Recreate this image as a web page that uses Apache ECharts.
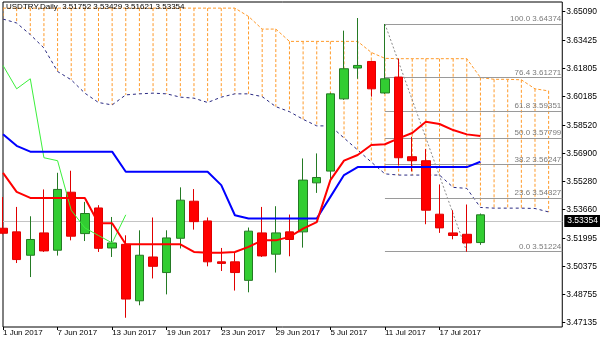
<!DOCTYPE html>
<html><head><meta charset="utf-8">
<script src="https://cdn.jsdelivr.net/npm/echarts@6/dist/echarts.min.js"></script>
<style>html,body{margin:0;padding:0;background:#fff}#c{width:600px;height:343px}</style>
</head><body><div id="c"></div>
<script>
const symbol = 'USDTRY', timeframe = 'Daily';
const dates = ["1 Jun 2017","2 Jun 2017","5 Jun 2017","6 Jun 2017","7 Jun 2017","8 Jun 2017","9 Jun 2017","12 Jun 2017","13 Jun 2017","14 Jun 2017","15 Jun 2017","16 Jun 2017","19 Jun 2017","20 Jun 2017","21 Jun 2017","22 Jun 2017","23 Jun 2017","26 Jun 2017","27 Jun 2017","28 Jun 2017","29 Jun 2017","30 Jun 2017","3 Jul 2017","4 Jul 2017","5 Jul 2017","6 Jul 2017","7 Jul 2017","10 Jul 2017","11 Jul 2017","12 Jul 2017","13 Jul 2017","14 Jul 2017","17 Jul 2017","18 Jul 2017","19 Jul 2017","20 Jul 2017","21 Jul 2017","24 Jul 2017","25 Jul 2017","26 Jul 2017","27 Jul 2017","28 Jul 2017"];
const open  = [3.5258,3.5237,3.5102,3.5231,3.5131,3.5466,3.5227,3.5375,3.5144,3.5165,3.4839,3.5092,3.5002,3.5200,3.5414,3.5300,3.5064,3.5064,3.4957,3.5231,3.5108,3.5237,3.5237,3.5520,3.5588,3.6005,3.6183,3.6221,3.6039,3.6131,3.5671,3.5648,3.5339,3.5231,3.5223,3.51752];
const close = [3.5229,3.5077,3.5193,3.5127,3.5482,3.5212,3.5343,3.5142,3.5173,3.4849,3.5102,3.5038,3.5202,3.5420,3.5296,3.5064,3.5055,3.5002,3.5241,3.5098,3.5231,3.5193,3.5536,3.5551,3.6034,3.6179,3.6198,3.6063,3.6121,3.5665,3.5648,3.5362,3.5260,3.5216,3.5173,3.53354];
const high  = [3.5438,3.5381,3.5327,3.5482,3.5578,3.5590,3.5410,3.5391,3.5323,3.5217,3.5246,3.5320,3.5246,3.5494,3.5484,3.5320,3.5144,3.5121,3.5262,3.5381,3.5385,3.5337,3.5661,3.5690,3.6040,3.6399,3.6472,3.6225,3.64374,3.6237,3.5786,3.5715,3.5511,3.5362,3.5395,3.53429];
const low   = [3.5223,3.5057,3.4976,3.5121,3.5100,3.5188,3.5184,3.5121,3.5092,3.4741,3.4813,3.4968,3.4876,3.5141,3.5250,3.5038,3.5011,3.4898,3.4888,3.5092,3.5002,3.5096,3.5146,3.5462,3.5526,3.5999,3.6121,3.6018,3.6034,3.5623,3.5586,3.5281,3.5231,3.5194,3.51224,3.51621];
const tenkan = [3.5578,3.5468,3.5433,3.5433,3.5433,3.5433,3.5433,3.5287,3.5287,3.5165,3.5165,3.5165,3.5165,3.5165,3.5121,3.5117,3.5117,3.5121,3.5150,3.5188,3.5188,3.5208,3.5256,3.5293,3.5536,3.5648,3.5681,3.5739,3.5743,3.5777,3.5808,3.5873,3.5860,3.5825,3.5800,3.5791];
const kijun = [3.5801,3.5734,3.5700,3.5700,3.5700,3.5700,3.5700,3.5700,3.5700,3.5584,3.5584,3.5584,3.5584,3.5584,3.5584,3.5584,3.5507,3.5333,3.5314,3.5314,3.5314,3.5314,3.5314,3.5314,3.5439,3.5565,3.5611,3.5611,3.5611,3.5611,3.5611,3.5611,3.5611,3.5611,3.5611,3.5642];
const spanUpper = [3.6529,3.6529,3.6529,3.6529,3.6529,3.6529,3.6529,3.6529,3.6529,3.6529,3.6529,3.6529,3.6529,3.6529,3.6529,3.6529,3.6529,3.6529,3.6481,3.6408,3.6408,3.6337,3.6337,3.6337,3.6337,3.6337,3.6337,3.6273,3.6239,3.6237,3.6237,3.6237,3.6237,3.6237,3.6237,3.6128,3.6118,3.6118,3.6115,3.6063,3.6051];
const spanLower = [3.6466,3.6443,3.6376,3.6299,3.6163,3.6115,3.6038,3.5984,3.5970,3.6028,3.6034,3.6038,3.6034,3.6015,3.6009,3.5984,3.6015,3.6034,3.6034,3.6018,3.5960,3.5931,3.5887,3.5849,3.5849,3.5779,3.5710,3.5640,3.5572,3.5565,3.5565,3.5565,3.5565,3.5494,3.5488,3.5378,3.5374,3.5374,3.5374,3.5372,3.5352];
const chikouShift = 26;
const fibLevels = ["0.0","23.6","38.2","50.0","61.8","76.4","100.0"];
const fibPrices = [3.51224,3.54327,3.56247,3.57799,3.59351,3.61271,3.64374];
const fibHighIndex = 28, fibLowIndex = 34;
const yTicks = [3.47135,3.48755,3.50375,3.51995,3.53660,3.55280,3.56900,3.58520,3.60185,3.61805,3.63425,3.65090];
const xLabelEvery = 4, xLastLabel = 32;

const yMin = 3.46876, yMax = 3.65644;
const ORANGE = '#ff9a2a', NAVY = '#2a2a82';
const FONT = 'Liberation Sans';

const N = dates.length;
const pad = a => { const o = a.slice(); while (o.length < N) o.push(null); return o; };
const candles = open.map((o, i) => [o, close[i], low[i], high[i]]);
const chikou = dates.map((d, i) => (i + chikouShift < close.length ? close[i + chikouShift] : null));
const last = close.length - 1;
const lastClose = close[last];
const showIdx = i => i % xLabelEvery === 0 && i <= xLastLabel;

const option = {
  animation: false,
  backgroundColor: '#fff',
  textStyle: { fontFamily: FONT },
  title: {
    text: symbol + ',' + timeframe + '  ' + [open[last], high[last], low[last], close[last]].map(v => v.toFixed(5)).join(' '),
    left: 6, top: 3, padding: 0,
    textStyle: { fontSize: 8, fontWeight: 'normal', color: '#000', fontFamily: FONT }
  },
  grid: { left: 2, right: 37, top: 2, bottom: 16, show: true, borderColor: '#000', borderWidth: 1, backgroundColor: '#fff' },
  xAxis: {
    type: 'category', data: dates, boundaryGap: false,
    axisLine: { show: false },
    axisTick: { show: true, length: 3, interval: (i) => showIdx(i), lineStyle: { color: '#000' } },
    axisLabel: { interval: (i) => showIdx(i), align: 'left', fontSize: 8, color: '#000', margin: 2, fontFamily: FONT, showMinLabel: true },
    splitLine: { show: false }
  },
  yAxis: {
    type: 'value', position: 'right', min: yMin, max: yMax,
    axisLine: { show: false }, splitLine: { show: false },
    axisTick: { show: true, length: 3, customValues: yTicks, lineStyle: { color: '#000' } },
    axisLabel: { customValues: yTicks, formatter: v => v.toFixed(5), fontSize: 8.5, color: '#000', margin: 4, fontFamily: FONT }
  },
  series: [
    {
      type: 'custom', silent: true, z: 1, clip: true,
      data: spanUpper.map((v, i) => [i, v, spanLower[i]]),
      encode: { x: 0, y: [1, 2] },
      renderItem: (params, api) => {
        const i = api.value(0);
        const a = api.coord([i, api.value(1)]);
        const b = api.coord([i, api.value(2)]);
        return { type: 'line', shape: { x1: a[0], y1: a[1], x2: b[0], y2: b[1] }, style: { stroke: ORANGE, lineWidth: 1, lineDash: [3, 2] } };
      }
    },
    { type: 'line', data: pad(spanUpper), showSymbol: false, silent: true, z: 2, lineStyle: { color: ORANGE, width: 1, type: [3, 2] } },
    { type: 'line', data: pad(spanLower), showSymbol: false, silent: true, z: 2, lineStyle: { color: NAVY, width: 1, type: [3, 3] } },
    {
      type: 'line', data: pad([]), showSymbol: false, silent: true, z: 2,
      markLine: {
        symbol: ['none', 'none'], silent: true, animation: false,
        lineStyle: { color: '#c4c4c4', type: 'solid', width: 1 },
        label: { show: true, position: 'end', formatter: lastClose.toFixed(5), backgroundColor: '#000', color: '#fff', padding: [2, 3, 1, 3], fontSize: 8.5, distance: 2, fontFamily: FONT },
        data: [{ yAxis: lastClose }]
      }
    },
    {
      type: 'line', showSymbol: false, silent: true, z: 3,
      data: [[dates[fibHighIndex], fibPrices[fibPrices.length - 1]], [dates[fibLowIndex], fibPrices[0]]],
      lineStyle: { color: '#8a8a8a', width: 1, type: [2, 2] },
      markLine: {
        symbol: ['none', 'none'], silent: true, animation: false,
        lineStyle: { color: '#9a9a9a', type: 'solid', width: 1 },
        label: { show: true, position: 'insideEndTop', color: '#7a7a7a', fontSize: 8, distance: [1, 1], fontFamily: FONT, formatter: p => p.name },
        data: fibPrices.map((p, k) => [
          { name: fibLevels[k] + ' ' + p.toFixed(5), coord: [dates[fibHighIndex], p] },
          { name: fibLevels[k] + ' ' + p.toFixed(5), coord: [dates[N - 1], p] }
        ])
      }
    },
    {
      type: 'candlestick', data: candles, barWidth: 9, z: 5, clip: true,
      itemStyle: { color: '#32cd32', color0: '#ff0000', borderColor: '#247a24', borderColor0: '#e00000', borderWidth: 1 }
    },
    { type: 'line', data: pad(chikou), showSymbol: false, silent: true, z: 6, lineStyle: { color: '#3cf03c', width: 1 } },
    { type: 'line', data: pad(kijun), showSymbol: false, silent: true, z: 6, lineStyle: { color: '#0000ff', width: 2 } },
    { type: 'line', data: pad(tenkan), showSymbol: false, silent: true, z: 6, lineStyle: { color: '#ff0000', width: 2 } }
  ]
};
const chart = echarts.init(document.getElementById('c'), null, { renderer: 'canvas' });
chart.setOption(option);
</script></body></html>
